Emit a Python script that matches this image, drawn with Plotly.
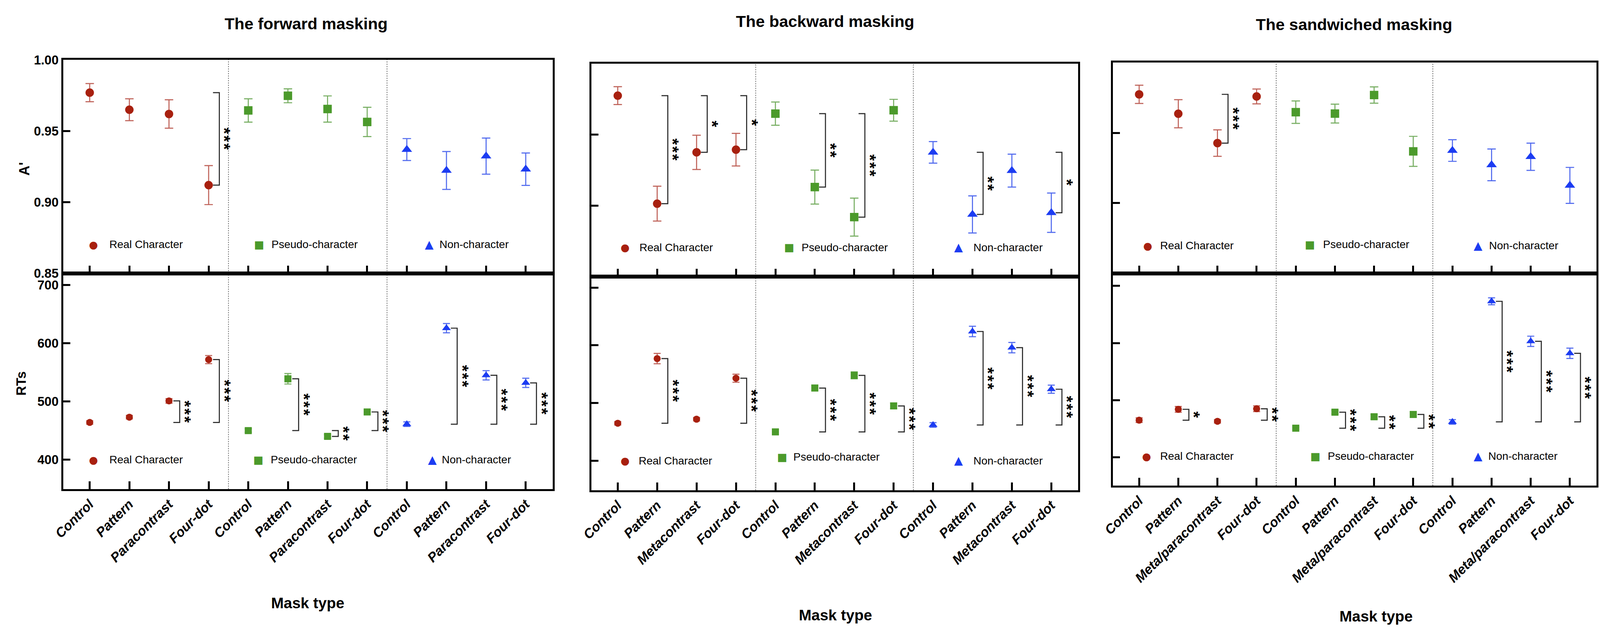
import plotly.graph_objects as go

# reference picture size (used only to express positions as fractions of the page)
W, H = 4564, 1628
# the page is photographed with a ~1.1 device-pixel ratio: pixel sizes are given in
# picture pixels and converted to CSS pixels with K
K = 1 / 1.108

# ---------------- data ----------------
panel_titles = ["The forward masking", "The backward masking", "The sandwiched masking"]
group_names = ["Real Character", "Pseudo-character", "Non-character"]
masks_forward = ["Control", "Pattern", "Paracontrast", "Four-dot"]
masks_backward = ["Control", "Pattern", "Metacontrast", "Four-dot"]
masks_sandwich = ["Control", "Pattern", "Meta/paracontrast", "Four-dot"]

a_ticks = [0.85, 0.90, 0.95, 1.00]
rt_ticks = [400, 500, 600, 700]

# A' (forward)
fwd_a_real = [0.977, 0.965, 0.962, 0.912]
fwd_a_real_se = [0.0064, 0.0077, 0.0100, 0.0137]
fwd_a_pseudo = [0.9645, 0.9748, 0.9655, 0.9564]
fwd_a_pseudo_se = [0.0082, 0.0049, 0.0092, 0.0103]
fwd_a_non = [0.937, 0.9223, 0.9324, 0.9232]
fwd_a_non_se = [0.0077, 0.0133, 0.0127, 0.0114]
# RT (forward)
fwd_rt_real = [464, 473, 501, 572]
fwd_rt_real_se = [3, 3, 4, 7]
fwd_rt_pseudo = [450, 539, 440, 482]
fwd_rt_pseudo_se = [3, 9, 3, 3]
fwd_rt_non = [461, 626, 545, 532]
fwd_rt_non_se = [4, 8, 8, 8]

# A' (backward)
bwd_a_real = [0.9775, 0.9013, 0.9375, 0.9394]
bwd_a_real_se = [0.0063, 0.0123, 0.0121, 0.0115]
bwd_a_pseudo = [0.9648, 0.913, 0.8918, 0.9672]
bwd_a_pseudo_se = [0.0082, 0.0120, 0.0134, 0.0077]
bwd_a_non = [0.9375, 0.8937, 0.9246, 0.8949]
bwd_a_non_se = [0.0076, 0.0131, 0.0116, 0.0139]
# RT (backward)
bwd_rt_real = [465, 577, 472, 543]
bwd_rt_real_se = [3, 9, 3, 7]
bwd_rt_pseudo = [450, 526, 548, 495]
bwd_rt_pseudo_se = [4, 5, 6, 5]
bwd_rt_non = [462, 624, 596, 524]
bwd_rt_non_se = [4, 9, 9, 7]

# A' (sandwiched)
snd_a_real = [0.9774, 0.9636, 0.9427, 0.9759]
snd_a_real_se = [0.0065, 0.0100, 0.0094, 0.0053]
snd_a_pseudo = [0.9647, 0.9637, 0.9769, 0.9368]
snd_a_pseudo_se = [0.0080, 0.0067, 0.0058, 0.0107]
snd_a_non = [0.9374, 0.9272, 0.9330, 0.9126]
snd_a_non_se = [0.0077, 0.0113, 0.0097, 0.0128]
# RT (sandwiched)
snd_rt_real = [465, 484, 463, 485]
snd_rt_real_se = [4, 5, 3, 5]
snd_rt_pseudo = [451, 479, 471, 475]
snd_rt_pseudo_se = [2, 3, 4, 5]
snd_rt_non = [462, 673, 603, 582]
snd_rt_non_se = [4, 6, 9, 9]

# significance: (group index, mask index compared with Control, stars)
fwd_a_sig = [(0, 3, "***")]
fwd_rt_sig = [(0, 2, "***"), (0, 3, "***"), (1, 1, "***"), (1, 2, "**"), (1, 3, "***"),
              (2, 1, "***"), (2, 2, "***"), (2, 3, "***")]
bwd_a_sig = [(0, 1, "***"), (0, 2, "*"), (0, 3, "*"), (1, 1, "**"), (1, 2, "***"),
             (2, 1, "**"), (2, 3, "*")]
bwd_rt_sig = [(0, 1, "***"), (0, 3, "***"), (1, 1, "***"), (1, 2, "***"), (1, 3, "***"),
              (2, 1, "***"), (2, 2, "***"), (2, 3, "***")]
snd_a_sig = [(0, 2, "***")]
snd_rt_sig = [(0, 1, "*"), (0, 3, "**"), (1, 1, "***"), (1, 2, "**"), (1, 3, "**"),
              (2, 1, "***"), (2, 2, "***"), (2, 3, "***")]

panels = [
    dict(masks=masks_forward,
         a=[(fwd_a_real, fwd_a_real_se), (fwd_a_pseudo, fwd_a_pseudo_se), (fwd_a_non, fwd_a_non_se)],
         rt=[(fwd_rt_real, fwd_rt_real_se), (fwd_rt_pseudo, fwd_rt_pseudo_se), (fwd_rt_non, fwd_rt_non_se)],
         a_sig=fwd_a_sig, rt_sig=fwd_rt_sig),
    dict(masks=masks_backward,
         a=[(bwd_a_real, bwd_a_real_se), (bwd_a_pseudo, bwd_a_pseudo_se), (bwd_a_non, bwd_a_non_se)],
         rt=[(bwd_rt_real, bwd_rt_real_se), (bwd_rt_pseudo, bwd_rt_pseudo_se), (bwd_rt_non, bwd_rt_non_se)],
         a_sig=bwd_a_sig, rt_sig=bwd_rt_sig),
    dict(masks=masks_sandwich,
         a=[(snd_a_real, snd_a_real_se), (snd_a_pseudo, snd_a_pseudo_se), (snd_a_non, snd_a_non_se)],
         rt=[(snd_rt_real, snd_rt_real_se), (snd_rt_pseudo, snd_rt_pseudo_se), (snd_rt_non, snd_rt_non_se)],
         a_sig=snd_a_sig, rt_sig=snd_rt_sig),
]

# ---------------- style / layout geometry ----------------
FONT = "Liberation Sans, Arial, Helvetica, sans-serif"
colors = ["#A8200F", "#4B9A2B", "#1C3CF2"]
err_colors = ["rgba(180,70,60,0.85)", "rgba(95,160,70,0.85)", "rgba(50,80,235,0.85)"]
symbols = ["circle", "square", "triangle-up"]
glyphs = ["\u25CF", "\u25A0", "\u25B2"]
glyph_sizes = [52, 48, 42]


def s(v):
    return v * K


px_x = [(150, 1556), (1667, 3065), (3165, 4554)]
px_y_a = [(139, 698), (149, 706), (146, 698)]
px_y_rt = [(698, 1262), (706, 1265), (698, 1253)]
rt_ranges = [(349.5, 720), (349, 719.2), (350.5, 721.7)]
x_range = [-0.67, 11.68]

title_px = [(848, 44), (2339, 38), (3858, 47)]
xtitle_px = [(853, 1560), (2368, 1592), (3921, 1595)]

legend_a = [
    dict(y=[622, 622, 622], mx=[237, 712, 1202], tx=[281, 746, 1229]),
    dict(y=[630, 630, 630], mx=[1764, 2235, 2722], tx=[1803, 2268, 2762]),
    dict(y=[625, 622, 625], mx=[3265, 3730, 4214], tx=[3298, 3766, 4243]),
]
legend_rt = [
    dict(y=[1185, 1185, 1185], mx=[237, 710, 1211], tx=[281, 744, 1235]),
    dict(y=[1188, 1178, 1188], mx=[1764, 2215, 2722], tx=[1801, 2245, 2762]),
    dict(y=[1176, 1176, 1176], mx=[3261, 3746, 4214], tx=[3298, 3780, 4241]),
]


def pxx(v):
    return v / W


def pxy(v):
    return 1 - v / H


fig = go.Figure()
layout = dict(
    autosize=True,
    margin=dict(l=0, r=0, t=0, b=0, pad=0),
    paper_bgcolor="white", plot_bgcolor="white",
    showlegend=False,
    font=dict(family=FONT, color="black"),
)
shapes = []
annotations = []

for p, pan in enumerate(panels):
    masks = pan["masks"]
    ticktext = masks * 3
    tickvals = list(range(len(ticktext)))
    for m, measure in enumerate(["a", "rt"]):
        idx = 2 * p + m + 1
        n = "" if idx == 1 else str(idx)
        xa, ya = "x" + n, "y" + n
        ydom = px_y_a[p] if m == 0 else px_y_rt[p]
        layout["xaxis" + n] = dict(
            domain=[pxx(px_x[p][0]), pxx(px_x[p][1])], anchor=ya,
            range=x_range, showgrid=False, zeroline=False,
            showline=True, linewidth=s(6), linecolor="black", mirror=True,
            ticks="inside", ticklen=s(22), tickwidth=s(5), tickcolor="black",
            tickvals=tickvals, ticktext=ticktext,
            showticklabels=(m == 1), tickangle=-45,
            tickfont=dict(family=FONT, size=s(38), weight="bold", style="italic", color="black"),
        )
        if m == 0:
            yrange = [0.8499, 1.0001]
            yt = a_ticks
            yfmt = ".2f"
        else:
            yrange = list(rt_ranges[p])
            yt = rt_ticks
            yfmt = "d"
        layout["yaxis" + n] = dict(
            domain=[pxy(ydom[1]), pxy(ydom[0])], anchor=xa,
            range=yrange, showgrid=False, zeroline=False,
            showline=True, linewidth=s(6), linecolor="black", mirror=True,
            ticks="inside", ticklen=s(20), tickwidth=s(5), tickcolor="black",
            tickvals=yt, tickformat=yfmt, showticklabels=(p == 0),
            tickfont=dict(family=FONT, size=s(36), weight="bold", color="black"),
        )
        series = pan[measure]
        for g, (mean, se) in enumerate(series):
            xs = [4 * g + k for k in range(len(mean))]
            if m == 0:
                msize = 24 if g < 2 else 26
                cap, thick = 12, 3
            else:
                msize = 20 if g < 2 else 22
                cap, thick = 10, 3
            fig.add_trace(go.Scatter(
                x=xs, y=mean, mode="markers", xaxis=xa, yaxis=ya,
                marker=dict(symbol=symbols[g], size=s(msize), color=colors[g], line=dict(width=0)),
                error_y=dict(type="data", array=se, visible=True, color=err_colors[g],
                             thickness=s(thick), width=s(cap)),
                hoverinfo="skip",
            ))
        # separators
        for sx in (3.5, 7.5):
            shapes.append(dict(type="line", xref=xa, yref=ya + " domain", x0=sx, x1=sx, y0=0, y1=1,
                               line=dict(color="#666666", width=s(2), dash="dot"), layer="below"))
        # significance brackets
        sig = pan["a_sig"] if m == 0 else pan["rt_sig"]
        for (g, k, stars) in sig:
            mean = series[g][0]
            xc = 4 * g + k
            y_ctrl = mean[0]
            y_k = mean[k]
            xv = xc + 0.27
            xa0 = xc + 0.11
            shapes.append(dict(
                type="path", xref=xa, yref=ya,
                path=f"M {xa0},{y_k} L {xv},{y_k} L {xv},{y_ctrl} L {xa0},{y_ctrl}",
                line=dict(color="#2a2a2a", width=s(3)),
            ))
            ymid = (y_ctrl + y_k) / 2
            # stars stacked vertically as one rotated label (hair spaces between them)
            annotations.append(dict(
                x=xc + 0.5, y=ymid, xref=xa, yref=ya, text="\u200a".join(stars), showarrow=False,
                textangle=90, xanchor="center", yanchor="middle",
                xshift=-s(11),
                font=dict(family=FONT, size=s(47), weight="bold", color="black"),
            ))
        # legend-like labels
        leg = legend_a[p] if m == 0 else legend_rt[p]
        for g in range(3):
            annotations.append(dict(
                x=pxx(leg["mx"][g]), y=pxy(leg["y"][g]), xref="paper", yref="paper",
                text=glyphs[g], showarrow=False, xanchor="center", yanchor="middle",
                font=dict(family=FONT, size=s(glyph_sizes[g]), color=colors[g]),
            ))
            annotations.append(dict(
                x=pxx(leg["tx"][g]), y=pxy(leg["y"][g]), xref="paper", yref="paper",
                text=group_names[g], showarrow=False, xanchor="left", yanchor="middle",
                font=dict(family=FONT, size=s(31), color="black"),
            ))
    # panel title
    annotations.append(dict(
        x=pxx(title_px[p][0]), y=pxy(title_px[p][1]), xref="paper", yref="paper",
        text=panel_titles[p], showarrow=False, xanchor="center", yanchor="middle",
        font=dict(family=FONT, size=s(46), weight="bold", color="black"),
    ))
    annotations.append(dict(
        x=pxx(xtitle_px[p][0]), y=pxy(xtitle_px[p][1]), xref="paper", yref="paper",
        text="Mask type", showarrow=False, xanchor="center", yanchor="middle",
        font=dict(family=FONT, size=s(43), weight="bold", color="black"),
    ))

# y-axis titles
annotations.append(dict(x=pxx(39), y=pxy(424), xref="paper", yref="paper", text="A'",
                        showarrow=False, textangle=-90, xanchor="center", yanchor="middle",
                        font=dict(family=FONT, size=s(40), weight="bold", color="black")))
annotations.append(dict(x=pxx(29), y=pxy(986), xref="paper", yref="paper", text="RTs",
                        showarrow=False, textangle=-90, xanchor="center", yanchor="middle",
                        font=dict(family=FONT, size=s(38), weight="bold", color="black")))

layout["shapes"] = shapes
layout["annotations"] = annotations
fig.update_layout(**layout)

post = ("document.documentElement.style.margin='0';document.body.style.margin='0';"
        "document.body.style.overflow='hidden';"
        "var gd=document.getElementById('{plot_id}');"
        "gd.style.width='100vw';gd.style.height='100vh';"
        "Plotly.Plots.resize(gd);")
fig.write_html("out.html", default_width="100vw", default_height="100vh",
               config={"responsive": True, "displayModeBar": False, "displaylogo": False},
               post_script=post)
